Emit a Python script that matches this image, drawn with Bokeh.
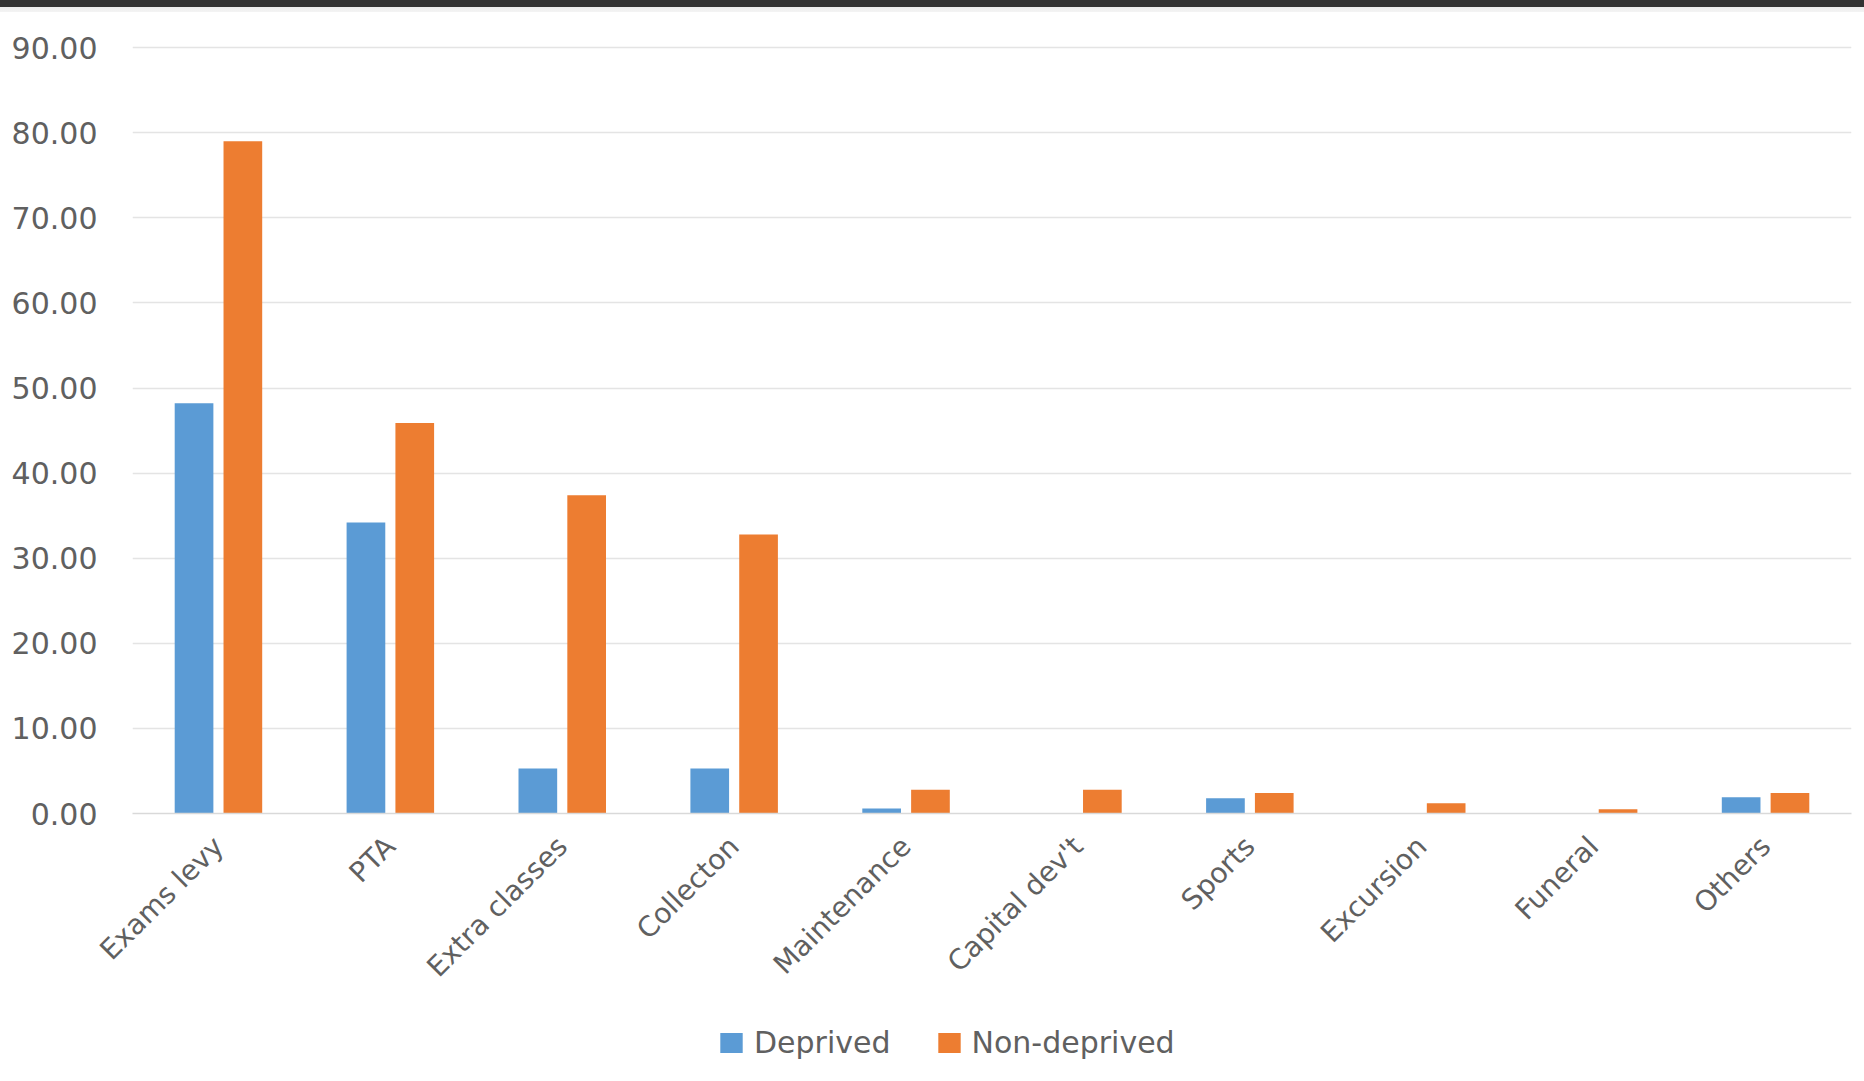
from bokeh.plotting import figure
from bokeh.models import ColumnDataSource, Legend, LegendItem, Div, FixedTicker, CustomJSTickFormatter
from bokeh.transform import dodge
from bokeh.layouts import column
from bokeh.embed import file_html
from bokeh.resources import INLINE
import math

# Share of respondents paying each type of school levy (%)
categories = ["Exams levy", "PTA", "Extra classes", "Collecton", "Maintenance",
              "Capital dev't", "Sports", "Excursion", "Funeral", "Others"]
deprived = [48.2, 34.2, 5.3, 5.3, 0.6, 0.0, 1.8, 0.0, 0.0, 1.9]
non_deprived = [79.0, 45.9, 37.4, 32.8, 2.8, 2.8, 2.4, 1.2, 0.5, 2.4]
y_ticks = [0, 10, 20, 30, 40, 50, 60, 70, 80, 90]
series_names = ["Deprived", "Non-deprived"]

BLUE = "#5B9BD5"
ORANGE = "#ED7D31"
TEXT = "#606060"
FONT = "DejaVu Sans"

src = ColumnDataSource(dict(cat=categories, dep=deprived, non=non_deprived))

p = figure(x_range=categories, y_range=(0, 90.25),
           width=1864, height=988,
           frame_width=1719, frame_height=768,
           min_border_left=132, min_border_right=13,
           min_border_top=33, min_border_bottom=187,
           output_backend="svg", toolbar_location=None,
           background_fill_color="white", border_fill_color="white")
p.outline_line_color = None

p.vbar(x=dodge("cat", -0.142, range=p.x_range), top="dep", width=0.225,
       source=src, fill_color=BLUE, line_color=None)
p.vbar(x=dodge("cat", 0.142, range=p.x_range), top="non", width=0.225,
       source=src, fill_color=ORANGE, line_color=None)

# grid
p.xgrid.grid_line_color = None
p.ygrid.grid_line_color = "#e4e4e4"
p.ygrid.grid_line_width = 1.5

# y axis
p.yaxis.ticker = FixedTicker(ticks=y_ticks)
p.yaxis.formatter = CustomJSTickFormatter(code="return tick.toFixed(2);")
p.yaxis.axis_line_color = None
p.yaxis.major_tick_line_color = None
p.yaxis.minor_tick_line_color = None
p.yaxis.major_label_standoff = 29
p.yaxis.major_label_text_font = FONT
p.yaxis.major_label_text_font_size = "30px"
p.yaxis.major_label_text_color = TEXT

# x axis
p.xaxis.axis_line_color = "#d9d9d9"
p.xaxis.axis_line_width = 1.5
p.xaxis.major_tick_line_color = None
p.xaxis.minor_tick_line_color = None
p.xaxis.major_label_orientation = math.pi / 4
p.xaxis.major_label_standoff = 22
p.xaxis.major_label_text_font = FONT
p.xaxis.major_label_text_font_size = "28px"
p.xaxis.major_label_text_color = TEXT

# legend strip under the chart (key renderers have zero height, out of view)
lg = figure(width=1864, height=81, x_range=(0, 1864), y_range=(0, 81),
            min_border=0, output_backend="svg", toolbar_location=None,
            background_fill_color="white", border_fill_color="white")
lg.outline_line_color = None
lg.axis.visible = False
lg.grid.visible = False
keys = ColumnDataSource(dict(x=[-5000], top=[0]))
k_dep = lg.vbar(x="x", top="top", bottom=0, width=1, source=keys, fill_color=BLUE, line_color=None)
k_non = lg.vbar(x="x", top="top", bottom=0, width=1, source=keys, fill_color=ORANGE, line_color=None)

legend = Legend(items=[LegendItem(label=series_names[0], renderers=[k_dep]),
                       LegendItem(label=series_names[1], renderers=[k_non])],
                orientation="horizontal", location=(585, 21),
                padding=0, margin=0, spacing=44,
                glyph_width=28, glyph_height=25, label_height=25,
                label_standoff=9,
                label_text_font=FONT, label_text_font_size="30px",
                label_text_color=TEXT,
                background_fill_alpha=0, border_line_color=None)
lg.add_layout(legend, "center")

top_bar = Div(width=1864, height=12,
              styles={"background": "linear-gradient(#333333 0px, #333333 7px, #ececec 7px, #f4f4f4 12px)",
                      "margin": "0"})

layout = column(top_bar, p, lg, spacing=0)
open("out.html", "w").write(file_html(layout, INLINE))
